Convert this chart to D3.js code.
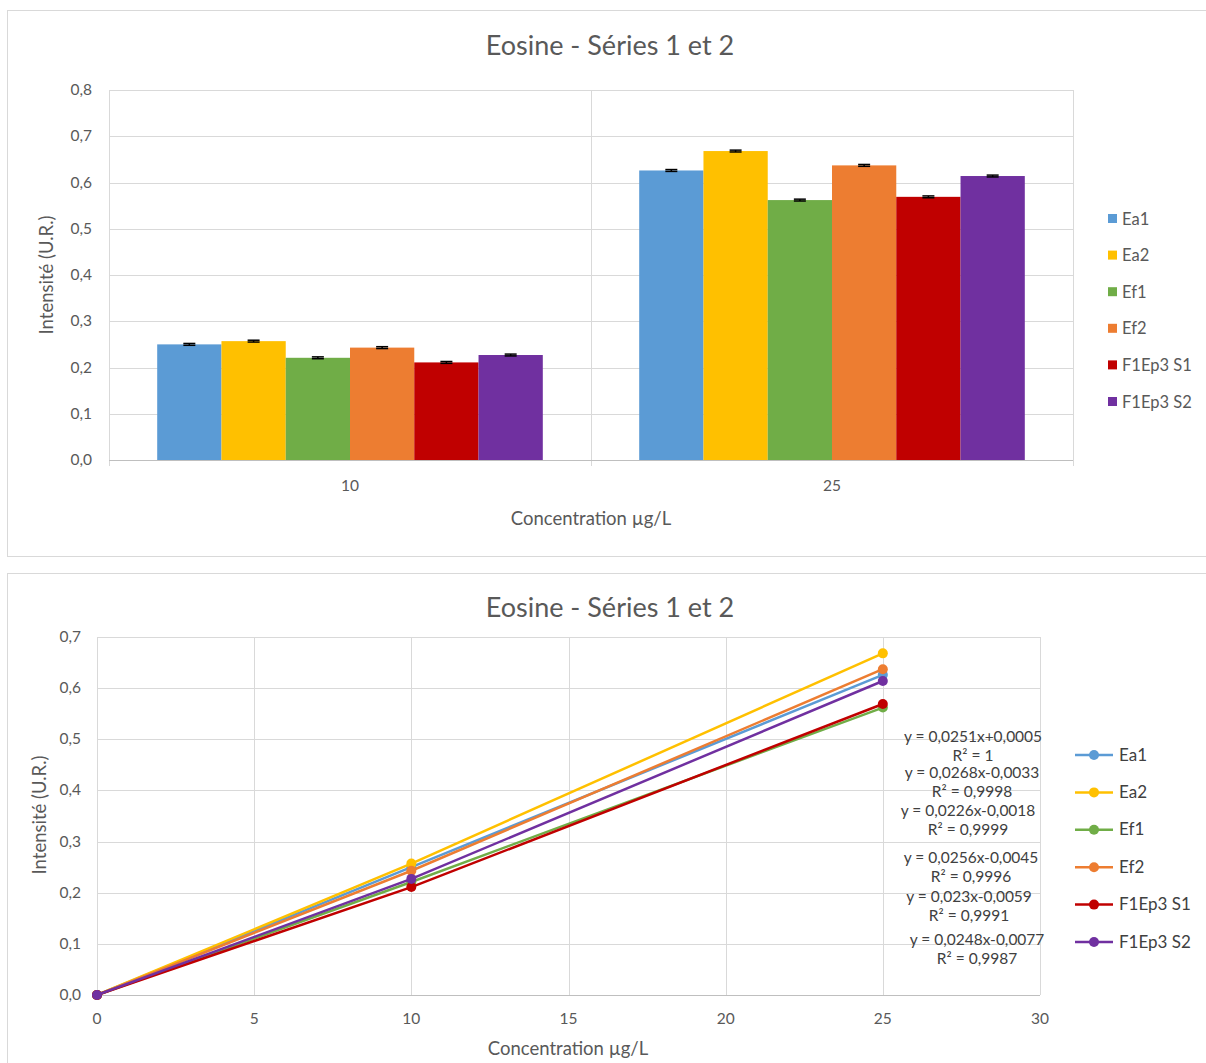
<!DOCTYPE html>
<html><head><meta charset="utf-8">
<script src="https://cdn.jsdelivr.net/npm/d3@7"></script>
<style>body{margin:0;background:#fff}text{font-family:Lato,"Open Sans",sans-serif;fill:#595959}</style>
</head><body><svg id="c" width="1206" height="1063"></svg>
<script>
const categories = ["10", "25"];
const seriesNames = ["Ea1", "Ea2", "Ef1", "Ef2", "F1Ep3 S1", "F1Ep3 S2"];
const colors = ["#5b9bd5", "#ffc000", "#70ad47", "#ed7d31", "#c00000", "#7030a0"];
const valuesAt10 = [0.250, 0.257, 0.221, 0.243, 0.211, 0.227];
const valuesAt25 = [0.626, 0.668, 0.562, 0.637, 0.569, 0.614];
const errorSize = [0.002, 0.002, 0.002, 0.002, 0.002, 0.002];
const concentrations = [0, 10, 25];
const barTicks = [0, 0.1, 0.2, 0.3, 0.4, 0.5, 0.6, 0.7, 0.8];
const lineTicksY = [0, 0.1, 0.2, 0.3, 0.4, 0.5, 0.6, 0.7];
const lineTicksX = [0, 5, 10, 15, 20, 25, 30];
const equations = ["y = 0,0251x+0,0005", "y = 0,0268x-0,0033", "y = 0,0226x-0,0018", "y = 0,0256x-0,0045", "y = 0,023x-0,0059", "y = 0,0248x-0,0077"];
const r2 = ["R² = 1", "R² = 0,9998", "R² = 0,9999", "R² = 0,9996", "R² = 0,9991", "R² = 0,9987"];

const svg = d3.select("#c");
const fmt = v => d3.format(".1f")(v).replace(".", ",");
const grid = "#d9d9d9";

// frames
svg.append("rect").attr("x",7.5).attr("y",10.5).attr("width",1210).attr("height",546).attr("fill","#fff").attr("stroke","#d9d9d9");
svg.append("rect").attr("x",7.5).attr("y",573.5).attr("width",1210).attr("height",500).attr("fill","#fff").attr("stroke","#d9d9d9");

// ================= BAR CHART =================
const b = {l:109, r:1073, t:90, b:460};
const x0 = d3.scaleBand().domain(categories).range([b.l,b.r]).paddingInner(0).paddingOuter(0);
const x1 = d3.scaleBand().domain(seriesNames).range([0,x0.bandwidth()]).paddingInner(0).paddingOuter(0.75);
const yb = d3.scaleLinear().domain([0,0.8]).range([b.b,b.t]);

const gb = svg.append("g");
gb.append("g").selectAll("line").data(barTicks.slice(1)).join("line")
  .attr("x1",b.l).attr("x2",b.r).attr("y1",d=>Math.round(yb(d))+0.5).attr("y2",d=>Math.round(yb(d))+0.5)
  .attr("stroke",grid);
[b.l, x0("25"), b.r].forEach(xv=>{
  gb.append("line").attr("x1",Math.round(xv)+0.5).attr("x2",Math.round(xv)+0.5).attr("y1",b.t).attr("y2",b.b+6).attr("stroke",grid);
});
gb.append("g").selectAll("text").data(barTicks).join("text")
  .attr("x",92).attr("y",d=>yb(d)+5).attr("text-anchor","end").attr("font-size",15.5).text(fmt);

const rows = [valuesAt10, valuesAt25];
categories.forEach((c,ci)=>{
  const g = gb.append("g").attr("transform",`translate(${x0(c)},0)`);
  g.selectAll("rect").data(seriesNames).join("rect")
    .attr("x",d=>x1(d)).attr("width",x1.bandwidth()).attr("y",(d,i)=>yb(rows[ci][i]))
    .attr("height",(d,i)=>yb(0)-yb(rows[ci][i])).attr("fill",(d,i)=>colors[i]);
  seriesNames.forEach((s,i)=>{
    const cx = x1(s)+x1.bandwidth()/2, v=rows[ci][i], e=errorSize[i];
    g.append("line").attr("x1",cx).attr("x2",cx).attr("y1",yb(v+e)).attr("y2",yb(v-e)).attr("stroke","#000").attr("stroke-width",1.5);
    [v+e, v-e].forEach(w=>g.append("line").attr("x1",cx-6).attr("x2",cx+6).attr("y1",yb(w)).attr("y2",yb(w)).attr("stroke","#000").attr("stroke-width",1.5));
  });
});
gb.append("line").attr("x1",b.l).attr("x2",b.r).attr("y1",b.b+0.5).attr("y2",b.b+0.5).attr("stroke","#bfbfbf");
gb.append("g").selectAll("text").data(categories).join("text")
  .attr("x",d=>x0(d)+x0.bandwidth()/2).attr("y",491).attr("text-anchor","middle").attr("font-size",15.5).text(d=>d);

svg.append("text").attr("x",610).attr("y",55).attr("text-anchor","middle").attr("font-size",27).text("Eosine - Séries 1 et 2");
svg.append("text").attr("x",591).attr("y",525).attr("text-anchor","middle").attr("font-size",18.5).text("Concentration µg/L");
svg.append("text").attr("transform","translate(53,275) rotate(-90)").attr("text-anchor","middle").attr("font-size",18.5).text("Intensité (U.R.)");

const lg1 = svg.append("g");
seriesNames.forEach((s,i)=>{
  const yy = 219 + i*36.6;
  lg1.append("rect").attr("x",1108).attr("y",yy-5).attr("width",9).attr("height",9).attr("fill",colors[i]);
  lg1.append("text").attr("x",1122).attr("y",yy+5.5).attr("font-size",16.5).text(s);
});

// ================= LINE CHART =================
const p = {l:97, r:1040, t:637, b:995};
const xl = d3.scaleLinear().domain([0,30]).range([p.l,p.r]);
const yl = d3.scaleLinear().domain([0,0.7]).range([p.b,p.t]);
const gl = svg.append("g");
gl.append("g").selectAll("line").data(lineTicksY.slice(1)).join("line")
  .attr("x1",p.l).attr("x2",p.r).attr("y1",d=>Math.round(yl(d))+0.5).attr("y2",d=>Math.round(yl(d))+0.5).attr("stroke",grid);
gl.append("g").selectAll("line").data(lineTicksX).join("line")
  .attr("x1",d=>Math.round(xl(d))+0.5).attr("x2",d=>Math.round(xl(d))+0.5).attr("y1",p.t).attr("y2",p.b).attr("stroke",grid);
gl.append("line").attr("x1",p.l).attr("x2",p.r).attr("y1",p.b+0.5).attr("y2",p.b+0.5).attr("stroke","#bfbfbf");
gl.append("g").selectAll("text").data(lineTicksY).join("text")
  .attr("x",81).attr("y",d=>yl(d)+5).attr("text-anchor","end").attr("font-size",15.5).text(fmt);
gl.append("g").selectAll("text").data(lineTicksX).join("text")
  .attr("x",d=>xl(d)).attr("y",1024).attr("text-anchor","middle").attr("font-size",15.5).text(d=>d);

const line = d3.line().x(d=>xl(d[0])).y(d=>yl(d[1]));
seriesNames.forEach((s,i)=>{
  const pts = concentrations.map((c,k)=>[c, k===0?0:(k===1?valuesAt10[i]:valuesAt25[i])]);
  gl.append("path").attr("d",line(pts)).attr("fill","none").attr("stroke",colors[i]).attr("stroke-width",2.5);
  gl.append("g").selectAll("circle").data(pts).join("circle")
    .attr("cx",d=>xl(d[0])).attr("cy",d=>yl(d[1])).attr("r",5).attr("fill",colors[i]);
});

// trendline equation labels (manually placed as in the original)
const eqY = [737, 773, 811, 858, 897, 940];
const eqX = [973, 972, 968, 971, 969, 977];
equations.forEach((e,i)=>{
  gl.append("text").attr("x",eqX[i]).attr("y",eqY[i]+5).attr("text-anchor","middle").attr("font-size",15.5).style("fill","#404040").text(e);
  gl.append("text").attr("x",eqX[i]).attr("y",eqY[i]+24).attr("text-anchor","middle").attr("font-size",15.5).style("fill","#404040").text(r2[i]);
});

svg.append("text").attr("x",610).attr("y",617).attr("text-anchor","middle").attr("font-size",27).text("Eosine - Séries 1 et 2");
svg.append("text").attr("x",568).attr("y",1055).attr("text-anchor","middle").attr("font-size",18.5).text("Concentration µg/L");
svg.append("text").attr("transform","translate(46,815) rotate(-90)").attr("text-anchor","middle").attr("font-size",18.5).text("Intensité (U.R.)");

const lg2 = svg.append("g");
seriesNames.forEach((s,i)=>{
  const yy = 755 + i*37.4;
  lg2.append("line").attr("x1",1075).attr("x2",1113).attr("y1",yy).attr("y2",yy).attr("stroke",colors[i]).attr("stroke-width",2.5);
  lg2.append("circle").attr("cx",1094).attr("cy",yy).attr("r",5).attr("fill",colors[i]);
  lg2.append("text").attr("x",1119).attr("y",yy+5.5).attr("font-size",17).style("fill","#404040").text(s);
});
</script></body></html>
